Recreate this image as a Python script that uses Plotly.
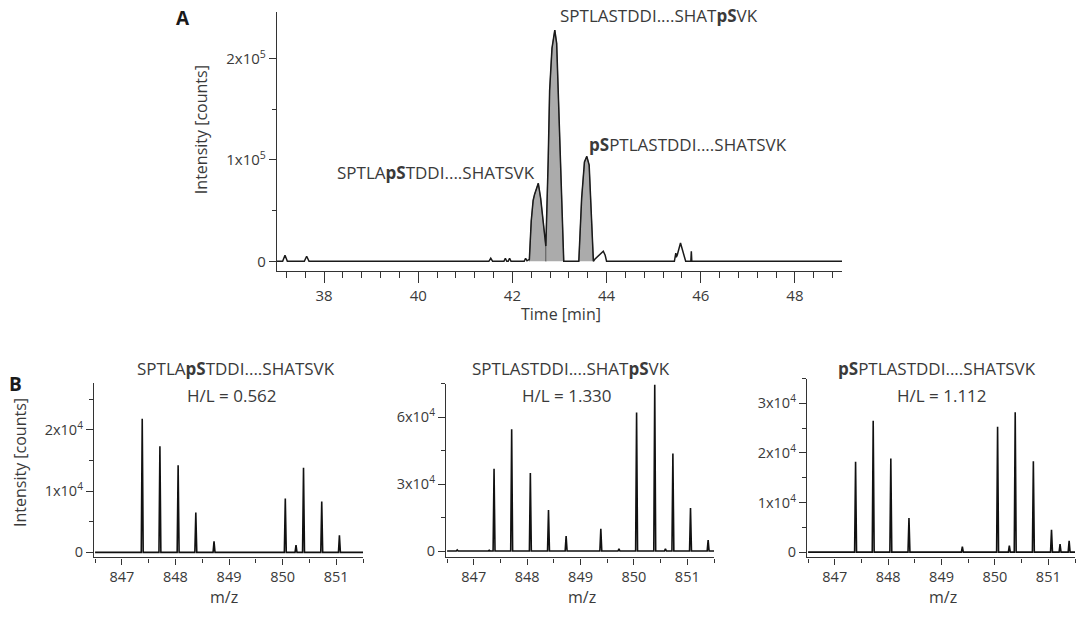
import plotly.graph_objects as go

W, H = 1079, 619

# ---------------- Panel A: extracted ion chromatogram ----------------
chrom_time = [37.0, 37.12, 37.17, 37.22, 37.58, 37.63, 37.68,
              41.50, 41.54, 41.58, 41.82, 41.85, 41.88, 41.91, 41.94, 41.97,
              42.25, 42.28, 42.31, 42.34,
              42.36, 42.40, 42.44, 42.47, 42.55, 42.60, 42.66, 42.71,
              42.76, 42.79, 42.84, 42.90, 42.94, 43.00, 43.05, 43.09,
              43.41, 43.47, 43.53, 43.58, 43.63, 43.68, 43.72,
              43.75, 43.85, 43.93, 43.97, 44.00,
              45.44, 45.46, 45.47, 45.48, 45.50, 45.57, 45.62, 45.66, 45.68,
              45.79, 45.80, 45.81, 49.0]
chrom_intensity = [0, 0, 6000, 0, 0, 5000, 0,
                   0, 3000, 0, 0, 3000, 0, 0, 3000, 0,
                   0, 3000, 500, 1000,
                   2000, 40000, 60000, 66000, 77000, 62000, 35000, 15000,
                   100000, 168000, 210000, 228000, 215000, 130000, 40000, 0,
                   0, 62000, 98000, 103500, 95000, 40000, 0,
                   2000, 7000, 10000, 6000, 0,
                   0, 5000, 8000, 4000, 6000, 18000, 10000, 2000, 0,
                   0, 10000, 0, 0]
filled_windows = [(42.36, 42.71), (42.71, 43.09), (43.41, 43.72)]

labelA_text = ["SPTLA<b>pS</b>TDDI....SHATSVK",
               "SPTLASTDDI....SHAT<b>pS</b>VK",
               "<b>pS</b>PTLASTDDI....SHATSVK"]

# ---------------- Panel B: MS spectra ----------------
spec_titles = labelA_text
spec_ratios = ["H/L = 0.562", "H/L = 1.330", "H/L = 1.112"]

spec1_mz = [847.38, 847.71, 848.05, 848.38, 848.72, 850.05, 850.25, 850.39, 850.73, 851.06]
spec1_int = [21800, 17300, 14200, 6500, 1800, 8800, 1200, 13800, 8300, 2800]

spec2_mz = [846.69, 847.29, 847.38, 847.71, 848.06, 848.40, 848.73, 849.38, 849.72,
            850.05, 850.39, 850.59, 850.73, 851.06, 851.39]
spec2_int = [500, 300, 36800, 54500, 34900, 18300, 6700, 9900, 1000,
             62000, 74400, 1000, 43700, 19200, 4900]

spec3_mz = [847.39, 847.72, 848.05, 848.39, 849.39, 850.05, 850.27, 850.38, 850.72,
            851.06, 851.22, 851.39]
spec3_int = [18200, 26500, 18900, 6900, 1100, 25300, 1300, 28200, 18300,
             4500, 1600, 2300]

def px(x):
    return x / W

def py(y):
    return 1 - y / H

def sticks(mz, inten, lo, hi, w=0.018):
    xs, ys = [lo], [0]
    for m, h in sorted(zip(mz, inten)):
        xs += [m - w, m, m + w]
        ys += [0, h, 0]
    xs.append(hi)
    ys.append(0)
    return xs, ys

fig = go.Figure()

AX = "#333333"
TXT = "#3a3a3a"
FONT = "Open Sans"

# filled peaks
for (t0, t1) in filled_windows:
    seg = [(t, v) for t, v in zip(chrom_time, chrom_intensity) if t0 <= t <= t1]
    xs = [t0] + [s[0] for s in seg] + [t1]
    ys = [0] + [s[1] for s in seg] + [0]
    fig.add_trace(go.Scatter(x=xs, y=ys, fill="toself", fillcolor="#ababab",
                             line=dict(color="#555555", width=0.8), mode="lines",
                             xaxis="x", yaxis="y", showlegend=False, hoverinfo="skip"))
fig.add_trace(go.Scatter(x=chrom_time, y=chrom_intensity, mode="lines",
                         line=dict(color="#1a1a1a", width=1.5),
                         xaxis="x", yaxis="y", showlegend=False))

specs = [(spec1_mz, spec1_int), (spec2_mz, spec2_int), (spec3_mz, spec3_int)]
for i, (mz, it) in enumerate(specs):
    xs, ys = sticks(mz, it, 846.5, 851.5)
    fig.add_trace(go.Scatter(x=xs, y=ys, mode="lines",
                             line=dict(color="#111111", width=1.6),
                             xaxis=f"x{i+2}", yaxis=f"y{i+2}", showlegend=False))

def axis_common(size):
    return dict(showline=True, linecolor=AX, linewidth=1.3, ticks="outside",
                tickcolor=AX, tickwidth=1.3, showgrid=False, zeroline=False,
                tickfont=dict(family=FONT, size=size, color=TXT), fixedrange=True)

# top panel axes
xa = axis_common(15)
xa.update(domain=[px(277), px(842)], range=[37.0, 49.0], tickvals=[38, 40, 42, 44, 46, 48],
          ticklen=11, anchor="y",
          minor=dict(tickvals=[37.2 + 0.4 * k for k in range(30)], ticklen=6,
                     tickcolor=AX, tickwidth=1.2))
ya = axis_common(15)
ya.update(domain=[py(273), py(12)], range=[-9800, 246000], tickvals=[0, 100000, 200000],
          ticktext=["0", "1x10<sup>5</sup>", "2x10<sup>5</sup>"], ticklen=7, anchor="x",
          minor=dict(tickvals=[50000, 150000], ticklen=4, tickcolor=AX, tickwidth=1.2))

# bottom panels
bx_dom = [(94, 363), (446, 714), (807, 1075)]
by_px = [(561, 385), (561, 386), (561, 381)]
by_rng = [(-810, 27700), (-2850, 75000), (-1060, 35000)]
by_major = [[0, 10000, 20000], [0, 30000, 60000], [0, 10000, 20000, 30000]]
by_text = [["0", "1x10<sup>4</sup>", "2x10<sup>4</sup>"],
           ["0", "3x10<sup>4</sup>", "6x10<sup>4</sup>"],
           ["0", "1x10<sup>4</sup>", "2x10<sup>4</sup>", "3x10<sup>4</sup>"]]
by_minor = [[5000, 15000, 25000], [15000, 45000, 75000], [5000, 15000, 25000, 35000]]

layout = dict(xaxis=xa, yaxis=ya)
for i in range(3):
    bx = axis_common(14.5)
    bx.update(domain=[px(bx_dom[i][0]), px(bx_dom[i][1])], range=[846.48, 851.5],
              tickvals=[847, 848, 849, 850, 851], ticklen=6, anchor=f"y{i+2}",
              minor=dict(tickvals=[846.5, 847.5, 848.5, 849.5, 850.5, 851.5], ticklen=4,
                         tickcolor=AX, tickwidth=1.2))
    by = axis_common(14.5)
    by.update(domain=[py(by_px[i][0]), py(by_px[i][1])], range=list(by_rng[i]),
              tickvals=by_major[i], ticktext=by_text[i], ticklen=7, anchor=f"x{i+2}",
              minor=dict(tickvals=by_minor[i], ticklen=4, tickcolor=AX, tickwidth=1.2))
    layout[f"xaxis{i+2}"] = bx
    layout[f"yaxis{i+2}"] = by

ann = []
def add_text(x, y, text, size=17, angle=0, bold=False):
    ann.append(dict(x=px(x), y=py(y), xref="paper", yref="paper", text=text,
                    showarrow=False, textangle=angle, xanchor="center", yanchor="middle",
                    font=dict(family=FONT, size=size, color="#1a1a1a" if bold else TXT)))

add_text(183, 18, "<b>A</b>", size=19, bold=True)
add_text(15, 386, "<b>B</b>", size=19, bold=True)
add_text(436, 174, labelA_text[0], size=17)
add_text(659, 16, labelA_text[1], size=17)
add_text(688, 145, labelA_text[2], size=17)
add_text(201, 131, "Intensity [counts]", size=16, angle=-90)
add_text(561, 316, "Time [min]", size=16)
add_text(20, 466, "Intensity [counts]", size=16, angle=-90)
title_x = [236, 571, 937]
ratio_x = [232, 567, 942]
mz_x = [224, 582, 943]
for i in range(3):
    add_text(title_x[i], 371, spec_titles[i], size=17)
    add_text(ratio_x[i], 398, spec_ratios[i], size=17)
    add_text(mz_x[i], 601, "m/z", size=16)

fig.update_layout(**layout, annotations=ann, width=W, height=H,
                  margin=dict(l=0, r=0, t=0, b=0),
                  paper_bgcolor="white", plot_bgcolor="white",
                  font=dict(family=FONT, color=TXT))

fig.write_html("out.html")
